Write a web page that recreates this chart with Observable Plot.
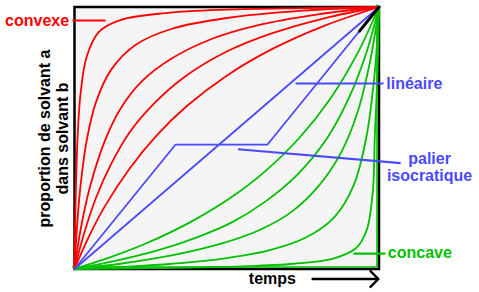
<!DOCTYPE html>
<html><head><meta charset="utf-8">
<script src="https://cdn.jsdelivr.net/npm/d3@7"></script>
<script src="https://cdn.jsdelivr.net/npm/@observablehq/plot@0.6"></script>
<style>html,body{margin:0;padding:0;background:#fff}svg{display:block}</style>
</head><body><div id="chart"></div>
<script>
// ---- values (time %, proportion %) ----
const convexA = [[0,0],[0.3,22],[1,50],[2,67],[4,81],[8,90.5],[15,95],[30,97.7],[50,99],[75,99.6],[100,100]];
const convexB = [[0,0],[1,19],[2,32],[4,49],[7,63.5],[12,76],[20,85.5],[32,91.7],[50,95.8],[75,98.6],[100,100]];
const convexC = [[0,0],[2,15],[5,31],[10,49],[15,61],[22,71.5],[32,80.4],[45,87.8],[60,93],[80,97.2],[100,100]];
const convexD = [[0,0],[3,13],[7,27],[12,40],[18,52],[26,63],[36,73.2],[50,83],[65,90],[82,95.7],[100,100]];
const convexE = [[0,0],[5,13],[10,24],[18,38.2],[27,51],[37,62.3],[50,73.8],[65,84],[82,92.8],[100,100]];

const concaveA = [[0,0],[25,0.3],[55,1],[72,2],[85,4],[92.5,8],[96,15],[98,30],[98.6,50],[99.5,75],[100,100]];
const concaveB = [[0,0],[19,1],[32,2],[49,4],[63.5,7],[76,12],[85.5,20],[91.7,32],[95.8,50],[98.6,75],[100,100]];
const concaveC = [[0,0],[15,2],[31,5],[49,10],[61,15],[71.5,22],[80.4,32],[87.8,45],[93,60],[97.2,80],[100,100]];
const concaveD = [[0,0],[13,3],[27,7],[40,12],[52,18],[63,26],[73.2,36],[83,50],[90,65],[95.7,82],[100,100]];
const concaveE = [[0,0],[13,5],[24,10],[38.2,18],[51,27],[62.3,37],[73.8,50],[84,65],[92.8,82],[100,100]];

const lineaire = [[0,0],[100,100]];
const palier = [[0,0],[33.2,47.5],[63.4,47.5],[100,100]];
const palierTip = [[93.6,90.8],[100,100]];
const edgeLimit = [[0,0],[100,0],[100,100]];

const labelTexts = ["convexe","linéaire","palier","isocratique","concave","temps"];
const yTitleLines = ["proportion de solvant a","dans solvant b"];

// ---- layout (data units of the square plot) ----
const RED = "#ff0000", GREEN = "#00c000", BLUE = "#4a4aff", FONT = "Liberation Sans, Arial, Helvetica, sans-serif";
const labelPos = [
  {x:-22.8, y:94.85, fill:RED, anchor:"start"},
  {x:102.4, y:70.8, fill:BLUE, anchor:"start"},
  {x:116.6, y:42.2, fill:BLUE, anchor:"middle"},
  {x:116.6, y:35.5, fill:BLUE, anchor:"middle"},
  {x:102.9, y:6.15, fill:GREEN, anchor:"start"},
  {x:65.0, y:-3.7, fill:"black", anchor:"middle"}
];
const pointers = [
  {x1:-0.66, y1:94.85, x2:10.2, y2:94.85, stroke:RED},
  {x1:72.6, y1:70.8, x2:101.5, y2:70.8, stroke:BLUE},
  {x1:53.7, y1:45.7, x2:107.1, y2:40.4, stroke:BLUE},
  {x1:91.6, y1:5.9, x2:102.1, y2:5.9, stroke:GREEN}
];
const timeArrow = [{x1:78.2, y1:-3.82, x2:99.8, y2:-3.82}];
const yTitlePos = [{x:-9.7, y:49.8},{x:-3.8, y:49.8}];

const toRows = (name, pts) => pts.map(([x,y]) => ({series:name, x, y}));
const convexRows = [["A",convexA],["B",convexB],["C",convexC],["D",convexD],["E",convexE]].flatMap(([n,p]) => toRows(n,p));
const concaveRows = [["A",concaveA],["B",concaveB],["C",concaveC],["D",concaveD],["E",concaveE]].flatMap(([n,p]) => toRows(n,p));
const labels = labelTexts.map((t,i) => ({text:t, ...labelPos[i]}));
const yTitle = yTitleLines.map((t,i) => ({text:t, ...yTitlePos[i]}));

const chart = Plot.plot({
  width: 479, height: 292,
  marginLeft: 74, marginRight: 100.5, marginTop: 6.5, marginBottom: 23.5,
  x: {domain:[0,100], axis:null},
  y: {domain:[0,100], axis:null},
  style: {background:"white", fontFamily: FONT},
  marks: [
    Plot.frame({fill:"#f5f5f5", stroke:"black", strokeWidth:2.5}),
    Plot.line(toRows("edge", edgeLimit), {x:"x", y:"y", stroke:GREEN, strokeWidth:1.6, dx:-2, dy:-2}),
    Plot.line(convexRows, {x:"x", y:"y", z:"series", stroke:RED, strokeWidth:1.8, curve:"catmull-rom"}),
    Plot.line(concaveRows, {x:"x", y:"y", z:"series", stroke:GREEN, strokeWidth:1.8, curve:"catmull-rom"}),
    Plot.line(toRows("lin", lineaire), {x:"x", y:"y", stroke:BLUE, strokeWidth:1.8}),
    Plot.line(toRows("pal", palier), {x:"x", y:"y", stroke:BLUE, strokeWidth:1.8}),
    Plot.line(toRows("tip", palierTip), {x:"x", y:"y", stroke:"black", strokeWidth:3}),
    Plot.link(pointers, {x1:"x1", y1:"y1", x2:"x2", y2:"y2", stroke:"stroke", strokeWidth:2.2}),
    Plot.arrow(timeArrow, {x1:"x1", y1:"y1", x2:"x2", y2:"y2", stroke:"black", strokeWidth:2.4, headAngle:90, headLength:7}),
    Plot.text(labels.filter(d => d.anchor === "start"), {x:"x", y:"y", text:"text", fill:"fill", textAnchor:"start", fontSize:16, fontWeight:"bold", fontFamily:FONT}),
    Plot.text(labels.filter(d => d.anchor === "middle"), {x:"x", y:"y", text:"text", fill:"fill", textAnchor:"middle", fontSize:16, fontWeight:"bold", fontFamily:FONT}),
    Plot.text(yTitle, {x:"x", y:"y", text:"text", rotate:-90, fill:"black", textAnchor:"middle", fontSize:16, fontWeight:"bold", fontFamily:FONT})
  ]
});
document.getElementById("chart").appendChild(chart);
</script>
</body></html>
